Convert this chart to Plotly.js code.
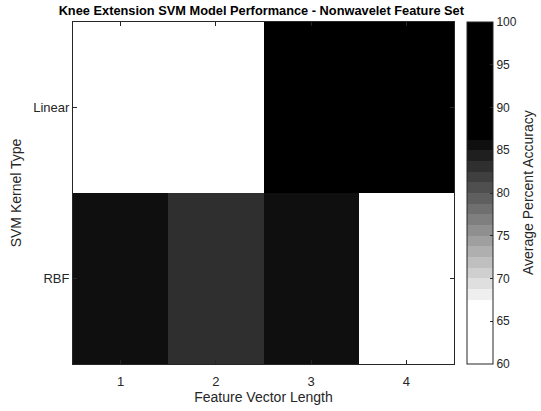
<!DOCTYPE html>
<html>
<head>
<meta charset="utf-8">
<script src="https://cdn.plot.ly/plotly-3.0.1.min.js"></script>
<style>html,body{margin:0;padding:0;background:#fff;}#chart{width:541px;height:411px;}</style>
</head>
<body>
<div id="chart"></div>
<script>
// Data
const featureLengths = [1, 2, 3, 4];
const kernelTypes = ['Linear', 'RBF'];
const linearAccuracy = [63.5, 64.2, 97.5, 98.1];
const rbfAccuracy = [85.6, 83.2, 85.5, 61.8];
const colorbarTicks = [60, 65, 70, 75, 80, 85, 90, 95, 100];

// Stepped grayscale colormap (32 levels between 60 and 100)
const nLevels = 32;
const levelGray = [];
for (let k = 0; k < nLevels; k++) {
  let g;
  if (k <= 5) g = 255;
  else if (k >= 21) g = 0;
  else g = Math.round(255 - (k - 5) * 16);
  levelGray.push(g);
}
const colorscale = [];
for (let k = 0; k < nLevels; k++) {
  const c = 'rgb(' + levelGray[k] + ',' + levelGray[k] + ',' + levelGray[k] + ')';
  colorscale.push([k / nLevels, c]);
  colorscale.push([(k + 1) / nLevels, c]);
}

const FONT = 'Liberation Sans, Arial, sans-serif';
const plotW = 381;

const trace = {
  type: 'heatmap',
  x: featureLengths,
  y: kernelTypes,
  z: [linearAccuracy, rbfAccuracy],
  zmin: 60, zmax: 100,
  colorscale: colorscale,
  hoverinfo: 'none',
  colorbar: {
    x: (467 - 73) / plotW, xanchor: 'left', xpad: 0,
    y: 0.5, yanchor: 'middle', len: 1, lenmode: 'fraction', ypad: 0,
    thickness: 26, thicknessmode: 'pixels',
    outlinecolor: '#262626', outlinewidth: 1,
    tickvals: colorbarTicks, ticktext: colorbarTicks.map(String),
    ticks: 'inside', ticklen: 3, tickcolor: '#262626',
    tickfont: {family: FONT, size: 12, color: '#262626'}
  }
};

const axisFont = {family: FONT, size: 13, color: '#262626'};
const layout = {
  width: 541, height: 411,
  margin: {l: 73, r: 87, t: 22, b: 47, pad: 0},
  paper_bgcolor: '#fff', plot_bgcolor: '#fff',
  title: {text: '<b>Knee Extension SVM Model Performance - Nonwavelet Feature Set</b>',
          font: {family: FONT, size: 12.8, color: '#000'},
          x: 0.483, xanchor: 'center', y: 0.975, yanchor: 'middle'},
  xaxis: {
    tickvals: featureLengths, ticktext: featureLengths.map(String),
    ticks: 'inside', ticklen: 4, tickcolor: '#262626',
    showline: true, linecolor: '#262626', linewidth: 1, mirror: 'ticks',
    showgrid: false, zeroline: false, tickfont: axisFont,
    ticklabelstandoff: 5,
    title: {text: 'Feature Vector Length', standoff: 4,
            font: {family: FONT, size: 14, color: '#262626'}}
  },
  yaxis: {
    autorange: 'reversed',
    ticks: 'inside', ticklen: 4, tickcolor: '#262626',
    showline: true, linecolor: '#262626', linewidth: 1, mirror: 'ticks',
    showgrid: false, zeroline: false, tickfont: axisFont,
    title: {text: 'SVM Kernel Type', standoff: 8,
            font: {family: FONT, size: 14, color: '#262626'}}
  },
  annotations: [{
    text: 'Average Percent Accuracy', textangle: -90,
    xref: 'paper', yref: 'paper', x: (528 - 73) / plotW, y: 0.5,
    xanchor: 'center', yanchor: 'middle', showarrow: false,
    font: {family: FONT, size: 14, color: '#262626'}
  }]
};

Plotly.newPlot('chart', [trace], layout, {displayModeBar: false, staticPlot: true});
</script>
</body>
</html>
